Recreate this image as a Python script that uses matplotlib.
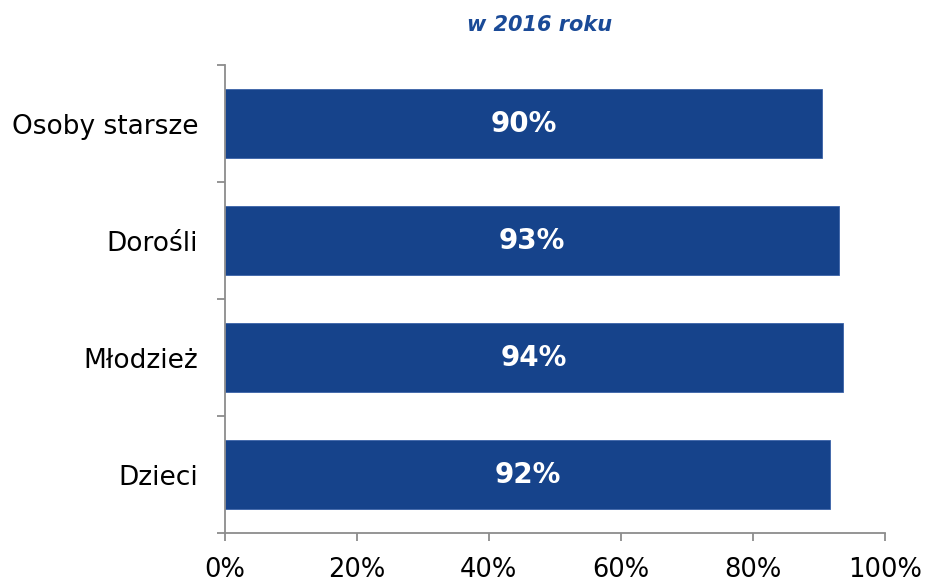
import matplotlib
matplotlib.use("Agg")
import matplotlib.pyplot as plt
import numpy as np
from matplotlib.ticker import FixedLocator, PercentFormatter

categories = ["Dzieci", "Młodzież", "Dorośli", "Osoby starsze"]
values = [91.7, 93.7, 93.1, 90.5]
labels = ["92%", "94%", "93%", "90%"]
xticks = [0, 20, 40, 60, 80, 100]
title = "w 2016 roku"

bar_color = "#16438B"
axis_color = "#8C8C8C"

plt.rcParams['font.family'] = ['DejaVu Sans']
fig = plt.figure(figsize=(9.27, 5.83), dpi=100)
ax = fig.add_axes([0.2422, 0.0852, 0.9547 - 0.2422, 0.8885 - 0.0852])

y = np.arange(len(categories))
bars = ax.barh(y, values, height=0.59, color=bar_color, edgecolor="#3A63A8", linewidth=0.6)
for yi, v, lab in zip(y, values, labels):
    ax.text(v / 2, yi, lab, ha="center", va="center", color="white",
            fontsize=20, fontweight="bold")

ax.set_xlim(0, 100)
ax.set_ylim(-0.5, len(categories) - 0.5)
ax.set_xticks(xticks)
ax.xaxis.set_major_formatter(PercentFormatter(decimals=0))
ax.set_yticks(y)
ax.set_yticklabels(categories)
ax.yaxis.set_minor_locator(FixedLocator(np.arange(-0.5, len(categories), 1.0)))

for s in ["top", "right"]:
    ax.spines[s].set_visible(False)
for s in ["left", "bottom"]:
    ax.spines[s].set_color(axis_color)
    ax.spines[s].set_linewidth(1.3)

ax.tick_params(axis="x", which="major", length=6, width=1.3, color=axis_color,
               labelsize=18.5, pad=11, direction="out")
ax.tick_params(axis="y", which="major", length=0, labelsize=19, pad=19)
ax.tick_params(axis="y", which="minor", length=6, width=1.3, color=axis_color, direction="out")

fig.text(540 / 927, 1 - 25 / 583, title, ha="center", va="center", fontsize=15,
         fontweight="bold", fontstyle="italic", color="#1A4A97")

fig.savefig("out.png", dpi=100)
